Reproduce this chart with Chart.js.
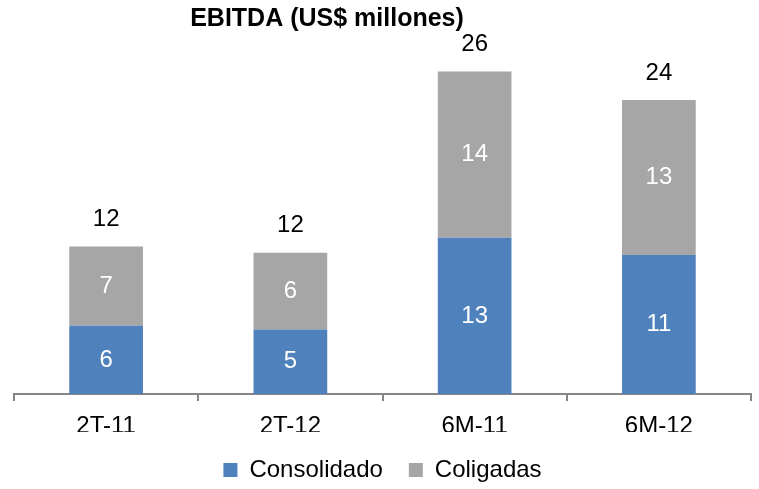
<!DOCTYPE html>
<html>
<head>
<meta charset="utf-8">
<script src="https://cdn.jsdelivr.net/npm/chart.js@4"></script>
<style>
  body { margin: 0; background: #fff; }
  #wrap { width: 759px; height: 489px; }
</style>
</head>
<body>
<div id="wrap"><canvas id="ebitdaChart" width="759" height="489"></canvas></div>
<script>
// datos
const periodos = ['2T-11', '2T-12', '6M-11', '6M-12'];
const consolidado = [5.5, 5.2, 12.6, 11.2];
const coligadas = [6.4, 6.2, 13.4, 12.5];
// etiquetas tal como aparecen en el grafico
const etiquetasConsolidado = ['6', '5', '13', '11'];
const etiquetasColigadas = ['7', '6', '14', '13'];
const etiquetasTotal = ['12', '12', '26', '24'];

const AZUL = '#4F81BD';
const GRIS = '#A6A6A6';
const FUENTE = 'Arial, "Liberation Sans", sans-serif';

// titulo (desplazado a la izquierda como en el original)
const tituloPlugin = {
    id: 'titulo',
    afterDraw(chart) {
        const ctx = chart.ctx;
        ctx.save();
        ctx.font = 'bold 25px ' + FUENTE;
        ctx.fillStyle = '#000';
        ctx.textAlign = 'center';
        ctx.textBaseline = 'middle';
        ctx.fillText('EBITDA (US$ millones)', 327, 19);
        ctx.restore();
    }
};

// etiquetas dentro de las barras y totales encima
const etiquetasPlugin = {
    id: 'etiquetas',
    afterDatasetsDraw(chart) {
        const ctx = chart.ctx;
        ctx.save();
        ctx.font = '24px ' + FUENTE;
        ctx.textAlign = 'center';
        ctx.textBaseline = 'middle';
        const textos = [etiquetasConsolidado, etiquetasColigadas];
        chart.data.datasets.forEach((ds, i) => {
            chart.getDatasetMeta(i).data.forEach((bar, j) => {
                ctx.fillStyle = '#fff';
                ctx.fillText(textos[i][j], bar.x, (bar.y + bar.base) / 2);
            });
        });
        const top = chart.getDatasetMeta(1).data;
        top.forEach((bar, j) => {
            ctx.fillStyle = '#000';
            ctx.fillText(etiquetasTotal[j], bar.x, bar.y - 27);
        });
        ctx.restore();
    }
};

new Chart(document.getElementById('ebitdaChart'), {
    type: 'bar',
    data: {
        labels: periodos,
        datasets: [
            { label: 'Consolidado', data: consolidado, backgroundColor: AZUL },
            { label: 'Coligadas', data: coligadas, backgroundColor: GRIS }
        ]
    },
    options: {
        responsive: false,
        animation: false,
        categoryPercentage: 0.4,
        barPercentage: 1,
        layout: { padding: { top: 22, left: 14, right: 8, bottom: -3 } },
        scales: {
            x: {
                stacked: true,
                border: { color: '#868686', width: 2 },
                grid: { offset: true, drawOnChartArea: false, color: '#868686', lineWidth: 2, tickLength: 7 },
                ticks: { color: '#000', font: { size: 24, family: FUENTE }, padding: 11 },
                afterFit(scale) { scale.height = 38; }
            },
            y: {
                stacked: true,
                display: false,
                min: 0,
                max: 30
            }
        },
        plugins: {
            legend: {
                position: 'bottom',
                labels: {
                    color: '#000',
                    font: { size: 24, family: FUENTE },
                    boxWidth: 14,
                    boxHeight: 14,
                    padding: 26
                }
            },
            tooltip: { enabled: false }
        }
    },
    plugins: [tituloPlugin, etiquetasPlugin]
});
</script>
</body>
</html>
